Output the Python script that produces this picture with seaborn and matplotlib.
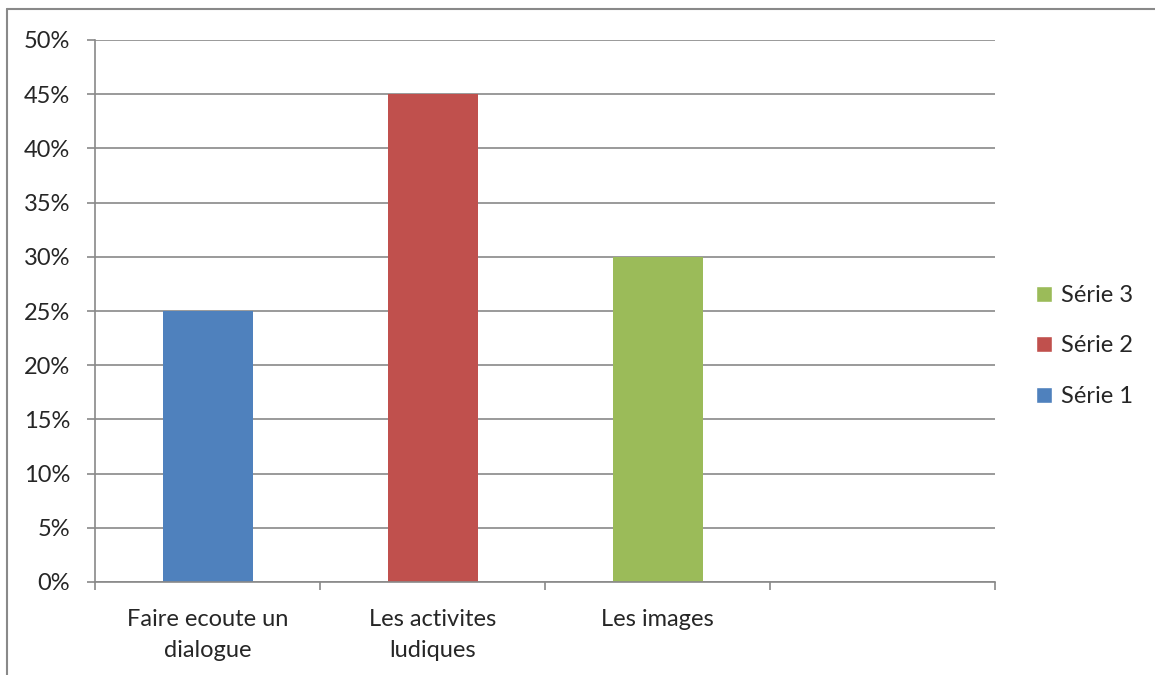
import matplotlib
matplotlib.use('Agg')
import matplotlib.pyplot as plt
import seaborn as sns
import pandas as pd
from matplotlib.lines import Line2D
from matplotlib.patches import Patch
from matplotlib.ticker import FuncFormatter, FixedLocator

# data
categories = ["Faire ecoute un\ndialogue", "Les activites\nludiques", "Les images", ""]
series = ["Série 1", "Série 2", "Série 3"]
values = [0.25, 0.45, 0.30]
colors = {"Série 1": "#4F81BD", "Série 2": "#C0504D", "Série 3": "#9BBB59"}
yticks = [0, 0.05, 0.10, 0.15, 0.20, 0.25, 0.30, 0.35, 0.40, 0.45, 0.50]

df = pd.DataFrame({"cat": categories[:3], "val": values, "serie": series})

sns.set_style("white")
plt.rcParams['font.family'] = ['Lato', 'DejaVu Sans']
grid_col = "#898989"
fs = 17

fig = plt.figure(figsize=(11.55, 6.75), dpi=100)
ax = fig.add_axes([95 / 1155, 1 - 582 / 675, 900 / 1155, 542 / 675])

sns.barplot(data=df, x="cat", y="val", hue="serie", order=categories,
            hue_order=series, palette=colors, dodge=False, width=0.4,
            saturation=1, linewidth=0, ax=ax, legend=False)

ax.set_xlim(-0.5, 3.5)
ax.set_ylim(0, 0.5)
ax.set_yticks(yticks)
ax.yaxis.set_major_formatter(FuncFormatter(lambda v, p: f"{v * 100:.0f}%"))
ax.grid(axis="y", color=grid_col, linewidth=1.2)
ax.set_axisbelow(True)
ax.set_xlabel("")
ax.set_ylabel("")

for s in ["top", "right"]:
    ax.spines[s].set_visible(False)
for s in ["left", "bottom"]:
    ax.spines[s].set_color(grid_col)
    ax.spines[s].set_linewidth(1.2)

ax.tick_params(axis="y", left=True, length=6, width=1.2, color=grid_col,
               pad=12, labelsize=fs)
ax.tick_params(axis="x", which="major", bottom=False, pad=16, labelsize=fs)
ax.xaxis.set_minor_locator(FixedLocator([-0.5, 0.5, 1.5, 2.5, 3.5]))
ax.tick_params(axis="x", which="minor", bottom=True, length=6, width=1.2,
               color=grid_col, direction="out")
for lab in ax.get_xticklabels():
    lab.set_linespacing(1.6)

handles = [Patch(facecolor=colors[s], label=s) for s in reversed(series)]
fig.legend(handles=handles, loc="center left", bbox_to_anchor=(1015 / 1155, 1 - 346 / 675),
           frameon=False, fontsize=fs, handlelength=0.65, handleheight=0.65,
           handletextpad=0.4, labelspacing=1.25)

# outer chart border (top and left visible)
fig.add_artist(Line2D([7 / 1155, 7 / 1155], [0, 1 - 9 / 675], color=grid_col,
                      linewidth=1.5, transform=fig.transFigure))
fig.add_artist(Line2D([7 / 1155, 1], [1 - 9 / 675, 1 - 9 / 675], color=grid_col,
                      linewidth=1.5, transform=fig.transFigure))

plt.savefig("out.png", dpi=100)
plt.close(fig)
